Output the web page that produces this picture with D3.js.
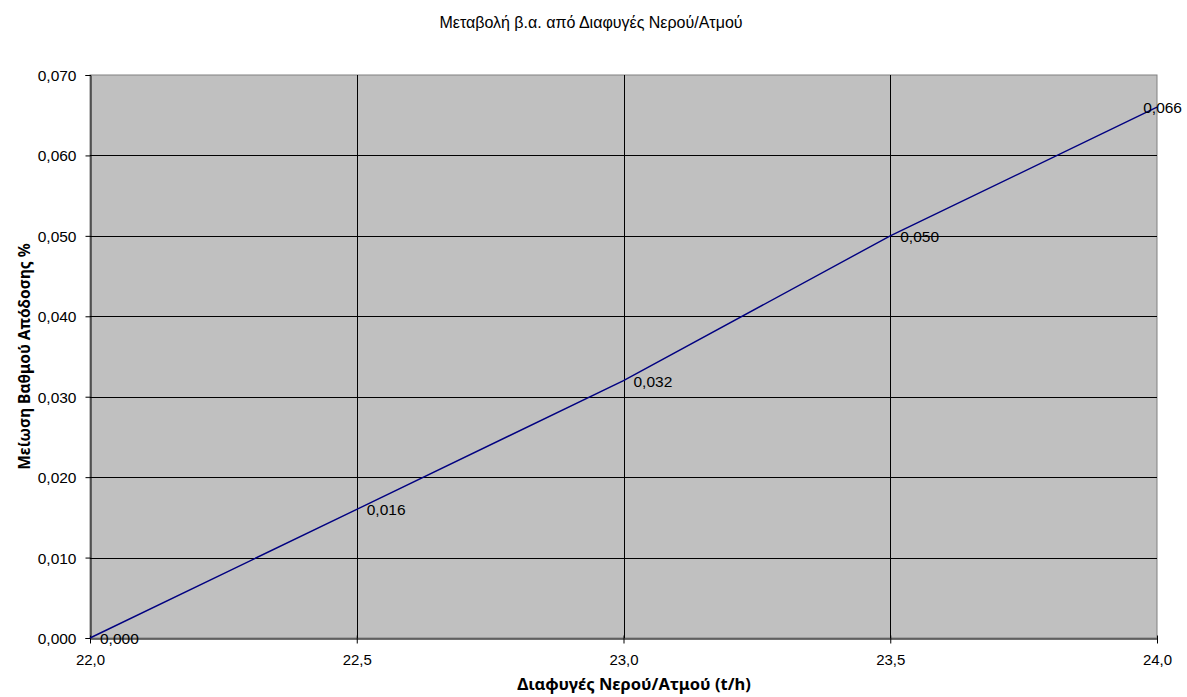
<!DOCTYPE html>
<html><head><meta charset="utf-8">
<script src="https://cdn.jsdelivr.net/npm/d3@7"></script>
<style>body{margin:0;background:#fff}svg{display:block}text{font-family:"Liberation Sans",Arial,sans-serif}text.ax{font-family:"Noto Sans",sans-serif}</style>
</head><body>
<svg id="c" width="1187" height="697"></svg>
<script>
const xValues = [22.0, 22.5, 23.0, 23.5, 24.0];
const yValues = [0.000, 0.016, 0.032, 0.050, 0.066];
const xTicks = [22.0, 22.5, 23.0, 23.5, 24.0];
const yTicks = [0, 0.01, 0.02, 0.03, 0.04, 0.05, 0.06, 0.07];
const title = "Μεταβολή β.α. από Διαφυγές Νερού/Ατμού";
const xTitle = "Διαφυγές Νερού/Ατμού (t/h)";
const yTitle = "Μείωση Βαθμού Απόδοσης %";

const svg = d3.select("#c");
const L = 90, R = 1157, T = 75, B = 638;
const x = d3.scaleLinear().domain([22, 24]).range([L, R]);
const y = d3.scaleLinear().domain([0, 0.07]).range([B, T]);
const fmt = (d, n) => d.toFixed(n).replace(".", ",");

svg.append("rect").attr("x", L).attr("y", T).attr("width", R - L).attr("height", B - T)
  .attr("fill", "#c0c0c0").attr("stroke", "#808080").attr("stroke-width", 1);

// grid
svg.append("g").selectAll("line").data(yTicks.slice(1, -1)).join("line")
  .attr("x1", L).attr("x2", R).attr("y1", d => Math.round(y(d)) + 0.5).attr("y2", d => Math.round(y(d)) + 0.5)
  .attr("stroke", "#000").attr("stroke-width", 1);
svg.append("g").selectAll("line").data(xTicks.slice(1, -1)).join("line")
  .attr("y1", T).attr("y2", B).attr("x1", d => Math.round(x(d)) + 0.5).attr("x2", d => Math.round(x(d)) + 0.5)
  .attr("stroke", "#000").attr("stroke-width", 1);

// axes
const yAxis = d3.axisLeft(y).tickValues(yTicks).tickFormat(d => fmt(d, 3)).tickSize(5).tickPadding(9);
const gy = svg.append("g").attr("transform", `translate(${L + 0.5},0)`).call(yAxis);
gy.select(".domain").attr("stroke", "#000");
gy.selectAll(".tick line").attr("stroke", "#000");
gy.selectAll("text").attr("font-size", 15.5).attr("fill", "#000").attr("dy", "0.35em");

const xAxis = d3.axisBottom(x).tickValues(xTicks).tickFormat(d => fmt(d, 1)).tickSizeInner(5).tickSizeOuter(0).tickPadding(11);
const gx = svg.append("g").attr("transform", `translate(0,${B + 0.5})`).call(xAxis);
gx.select(".domain").attr("stroke", "#404040").attr("stroke-width", 1.5);
gx.selectAll(".tick line").attr("stroke", "#000").attr("y1", -3);
gx.selectAll("text").attr("font-size", 15).attr("fill", "#000");

// line
const data = xValues.map((v, i) => ({x: v, y: yValues[i]}));
svg.append("path").datum(data)
  .attr("d", d3.line().x(d => x(d.x)).y(d => y(d.y)))
  .attr("fill", "none").attr("stroke", "#000080").attr("stroke-width", 1.4);

// labels
svg.append("g").selectAll("text").data(data).join("text")
  .attr("font-size", 15.5).attr("fill", "#000").attr("dy", "0.36em")
  .attr("y", d => y(d.y) + 0.5)
  .text(d => fmt(d.y, 3))
  .attr("x", function(d) {
    const w = this.getComputedTextLength();
    let px = x(d.x) + 10;
    if (px + w > 1182) px = 1182 - w;
    return px;
  });

svg.append("text").attr("x", 591).attr("y", 28).attr("text-anchor", "middle")
  .attr("font-size", 16).text(title);
svg.append("text").attr("class", "ax").attr("x", 634).attr("y", 690).attr("text-anchor", "middle")
  .attr("font-size", 16.5).attr("font-weight", "bold").text(xTitle);
svg.append("text").attr("class", "ax").attr("transform", `translate(30,${(T + B) / 2}) rotate(-90)`).attr("text-anchor", "middle")
  .attr("font-size", 15.5).attr("font-weight", "bold").text(yTitle);
</script>
</body></html>
